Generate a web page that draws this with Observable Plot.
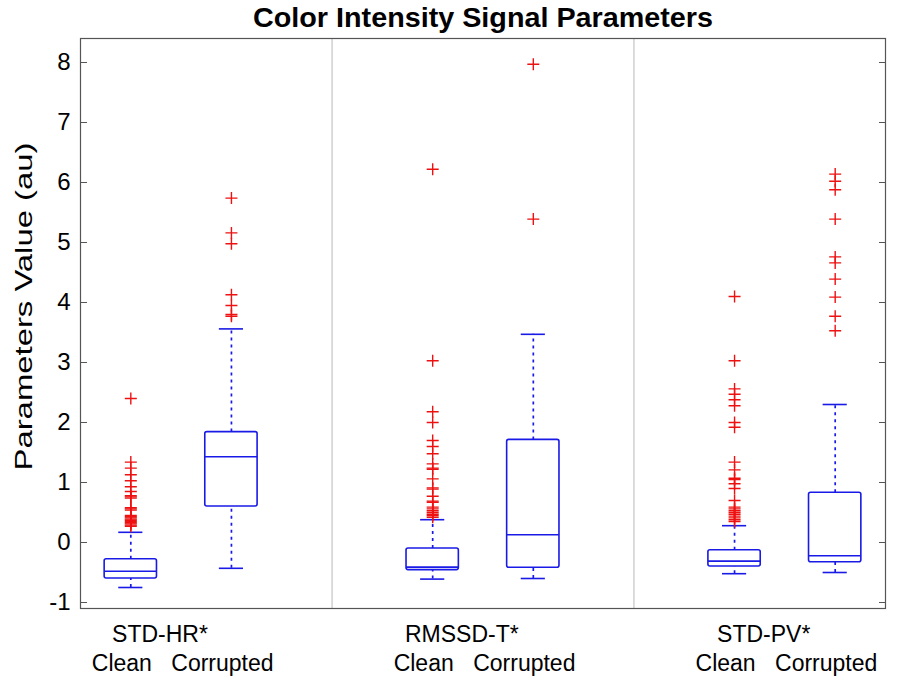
<!DOCTYPE html>
<html><head><meta charset="utf-8">
<script src="https://cdn.jsdelivr.net/npm/d3@7"></script>
<script src="https://cdn.jsdelivr.net/npm/@observablehq/plot@0.6"></script>
<style>body{margin:0;background:#fff}</style>
</head><body><div id="chart"></div>
<script>
const title = "Color Intensity Signal Parameters";
const yLabel = "Parameters Value (au)";
const groups = ["STD-HR*", "RMSSD-T*", "STD-PV*"];
const conditions = ["Clean", "Corrupted", "Clean", "Corrupted", "Clean", "Corrupted"];
const positions = [1, 2, 4, 5, 7, 8];
const q1 = [-0.60, 0.60, -0.46, -0.42, -0.40, -0.33];
const medians = [-0.48, 1.43, -0.41, 0.13, -0.31, -0.22];
const q3 = [-0.28, 1.84, -0.10, 1.71, -0.13, 0.83];
const whiskerLow = [-0.75, -0.43, -0.61, -0.60, -0.52, -0.50];
const whiskerHigh = [0.17, 3.56, 0.38, 3.47, 0.28, 2.30];
const outliers = [
  [2.40, 1.34, 1.24, 1.13, 1.03, 0.93, 0.85, 0.78, 0.76, 0.74, 0.58, 0.56, 0.54, 0.45, 0.43, 0.41, 0.39, 0.37, 0.35, 0.33, 0.31, 0.29, 0.27],
  [5.74, 5.16, 4.98, 4.13, 3.95, 3.80, 3.77],
  [6.22, 3.03, 2.18, 2.00, 1.70, 1.60, 1.48, 1.31, 1.24, 1.22, 1.06, 0.91, 0.89, 0.77, 0.69, 0.67, 0.59, 0.56, 0.53, 0.50, 0.47, 0.45, 0.42],
  [7.97, 5.39],
  [4.10, 3.03, 2.56, 2.47, 2.38, 2.28, 2.00, 1.92, 1.34, 1.21, 1.07, 1.05, 0.98, 0.90, 0.70, 0.59, 0.56, 0.53, 0.50, 0.47, 0.44, 0.41, 0.38, 0.35],
  [6.14, 6.02, 5.88, 5.39, 4.76, 4.66, 4.39, 4.09, 3.77, 3.53]
];
const yTicks = [-1, 0, 1, 2, 3, 4, 5, 6, 7, 8];
const separators = [3, 6];

const blue = "#1a1ae6";
const red = "#ee1111";
const boxes = positions.map((p, i) => ({
  x: p, q1: q1[i], med: medians[i], q3: q3[i], lo: whiskerLow[i], hi: whiskerHigh[i], cond: conditions[i]
}));
const points = outliers.flatMap((arr, i) => arr.map(v => ({x: positions[i], y: v})));
const groupLabels = groups.map((g, i) => ({label: g, x: (positions[2 * i] + positions[2 * i + 1]) / 2 - 0.21}));

const plusSymbol = {
  draw(context, size) {
    const r = Math.sqrt(size / Math.PI);
    context.moveTo(-r, 0); context.lineTo(r, 0);
    context.moveTo(0, -r); context.lineTo(0, r);
  }
};
const hw = 0.26, cw = 0.12;

const chart = Plot.plot({
  width: 900, height: 690,
  marginLeft: 80, marginRight: 15, marginTop: 38, marginBottom: 82,
  style: {fontFamily: "Liberation Sans, Arial, sans-serif", background: "#fff", color: "#000"},
  x: {domain: [0.5, 8.5], axis: null},
  y: {domain: [-1.1, 8.4], axis: null},
  marks: [
    Plot.ruleX(separators, {stroke: "#c4c4c4", strokeWidth: 1.2}),
    Plot.ruleX(boxes, {x: "x", y1: "q3", y2: "hi", stroke: blue, strokeWidth: 1.7, strokeDasharray: "3,4"}),
    Plot.ruleX(boxes, {x: "x", y1: "lo", y2: "q1", stroke: blue, strokeWidth: 1.7, strokeDasharray: "3,4"}),
    Plot.ruleY(boxes, {y: "hi", x1: d => d.x - cw, x2: d => d.x + cw, stroke: blue, strokeWidth: 1.6}),
    Plot.ruleY(boxes, {y: "lo", x1: d => d.x - cw, x2: d => d.x + cw, stroke: blue, strokeWidth: 1.6}),
    Plot.rect(boxes, {x1: d => d.x - hw, x2: d => d.x + hw, y1: "q1", y2: "q3", stroke: blue, strokeWidth: 1.6, fill: "none", rx: 2}),
    Plot.ruleY(boxes, {y: "med", x1: d => d.x - hw, x2: d => d.x + hw, stroke: blue, strokeWidth: 1.6}),
    Plot.dot(points, {x: "x", y: "y", symbol: plusSymbol, r: 6, stroke: red, strokeWidth: 1.4, fill: "none"}),
    Plot.frame({stroke: "#555", strokeWidth: 1.2}),
    Plot.axisY({anchor: "left", ticks: yTicks, tickSize: 0, tickPadding: 10, fontSize: 24, tickFormat: d => String(d)}),
    Plot.axisY({anchor: "left", ticks: yTicks, tickSize: 7, dx: 7, tickFormat: () => "", stroke: "#555"}),
    Plot.axisY({anchor: "right", ticks: yTicks, tickSize: 7, dx: -7, tickFormat: () => "", stroke: "#555"}),
    Plot.text(boxes, {x: "x", text: "cond", frameAnchor: "bottom", dy: 55, dx: -9, fontSize: 23, lineAnchor: "middle"}),
    Plot.text(groupLabels, {x: "x", text: "label", frameAnchor: "bottom", dy: 26, fontSize: 23, lineAnchor: "middle"}),
    Plot.text([title], {frameAnchor: "top", dy: -20, fontSize: 27, fontWeight: "bold", lineAnchor: "middle"}),
    Plot.text([yLabel], {frameAnchor: "left", dx: -56, dy: -17, rotate: -90, fontSize: 24, lineAnchor: "middle", textAnchor: "middle"})
  ]
});
document.getElementById("chart").appendChild(chart);
// stretch the title and axis label to the reference's text length
d3.select(chart).selectAll("text").each(function() {
  const t = this.textContent;
  if (t === title) this.setAttribute("textLength", 460), this.setAttribute("lengthAdjust", "spacingAndGlyphs");
  if (t === yLabel) this.setAttribute("textLength", 328), this.setAttribute("lengthAdjust", "spacingAndGlyphs");
});
</script>
</body></html>
